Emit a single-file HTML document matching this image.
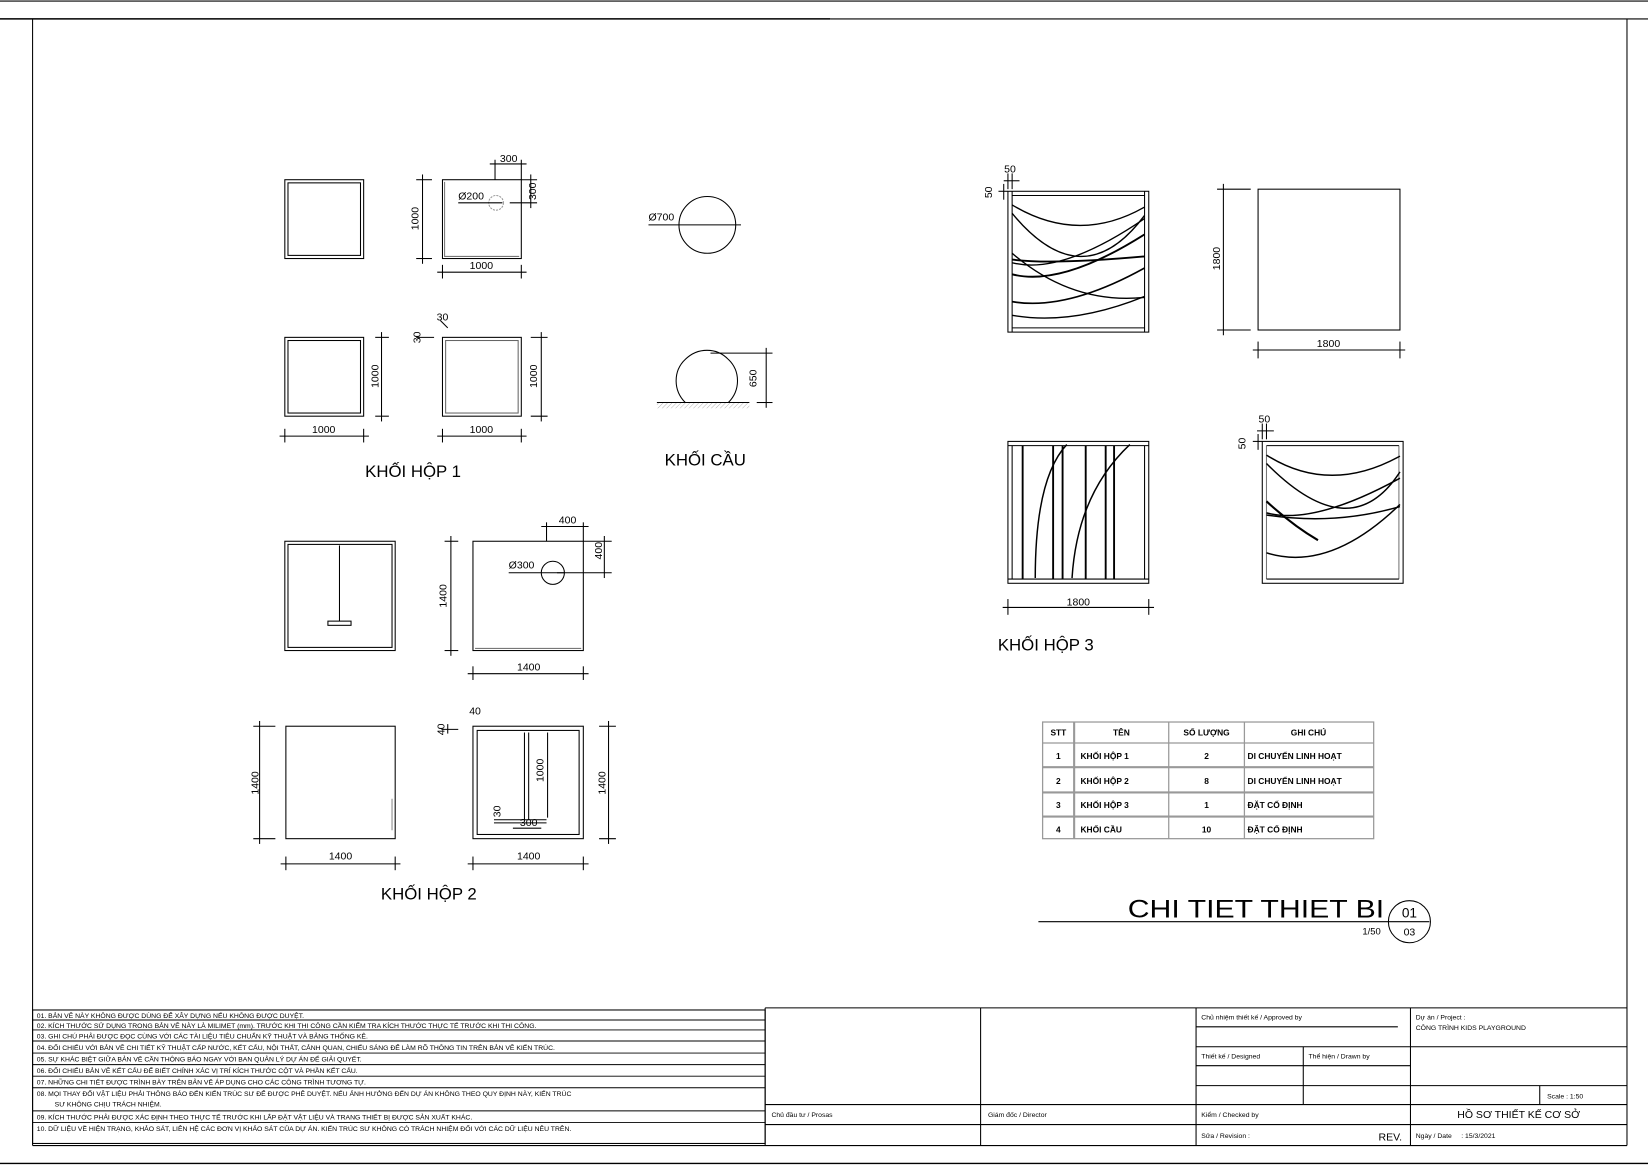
<!DOCTYPE html>
<html><head><meta charset="utf-8"><style>
html,body{margin:0;padding:0;background:#fff;}
svg{display:block;}
text{font-family:"Liberation Sans","DejaVu Sans",sans-serif;fill:#000;}
</style></head><body>
<svg width="1648" height="1165" viewBox="0 0 1568 1108.5" preserveAspectRatio="none" xmlns="http://www.w3.org/2000/svg">
<defs>
<pattern id="hat" width="3" height="3" patternUnits="userSpaceOnUse" patternTransform="rotate(45)"><line x1="0" y1="0" x2="0" y2="3" stroke="#888" stroke-width="0.6"/></pattern>
</defs>
<g fill="none" stroke="#000" stroke-width="1">
<line x1="0" y1="1" x2="1568" y2="1"/>
<line x1="0" y1="18" x2="790" y2="18" stroke-width="1.4"/>
<line x1="790" y1="18" x2="1568" y2="18" stroke-width="1"/>
<line x1="31" y1="18" x2="31" y2="1090"/>
<line x1="1548" y1="18" x2="1548" y2="1090"/>
<line x1="0" y1="1107" x2="1568" y2="1107" stroke-width="1.3"/>

<rect x="271" y="171" width="75" height="75"/><rect x="274" y="174" width="69" height="69"/>
<rect x="421" y="171" width="75" height="75"/><path d="M423 173 V244 H494" stroke="#777"/>
<line x1="402" y1="166" x2="402" y2="251"/><line x1="396" y1="171" x2="411" y2="171"/><line x1="396" y1="246" x2="411" y2="246"/>
<line x1="416" y1="259" x2="501" y2="259"/><line x1="421" y1="252" x2="421" y2="265"/><line x1="496" y1="252" x2="496" y2="265"/>
<line x1="466" y1="156" x2="501" y2="156"/><line x1="471" y1="152" x2="471" y2="171"/><line x1="496" y1="152" x2="496" y2="171"/>
<line x1="505" y1="166" x2="505" y2="198"/><line x1="496" y1="171" x2="511" y2="171"/><line x1="485" y1="193" x2="511" y2="193"/>
<circle cx="472" cy="193" r="7" stroke="#999" stroke-dasharray="2 1"/>
<line x1="436" y1="193" x2="478" y2="193"/>
<rect x="271" y="321" width="75" height="75"/><rect x="274" y="324" width="69" height="69"/>
<line x1="363" y1="316" x2="363" y2="401"/><line x1="357" y1="321" x2="370" y2="321"/><line x1="357" y1="396" x2="370" y2="396"/>
<line x1="266" y1="415" x2="351" y2="415"/><line x1="271" y1="408" x2="271" y2="421"/><line x1="346" y1="408" x2="346" y2="421"/>
<rect x="421" y="321" width="75" height="75"/><rect x="424" y="324" width="69" height="69" stroke="#666"/>
<line x1="515" y1="316" x2="515" y2="401"/><line x1="505" y1="321" x2="521" y2="321"/><line x1="505" y1="396" x2="521" y2="396"/>
<line x1="416" y1="415" x2="501" y2="415"/><line x1="421" y1="408" x2="421" y2="421"/><line x1="496" y1="408" x2="496" y2="421"/>
<line x1="419" y1="305" x2="426" y2="312"/><line x1="396" y1="321" x2="413" y2="321"/>

<circle cx="673" cy="214" r="27"/>
<line x1="617" y1="214" x2="705" y2="214"/>
<path d="M652 383 A29 29 0 1 1 693 383"/>
<line x1="625" y1="383" x2="713" y2="383"/>
<rect x="625" y="383.5" width="88" height="5" fill="url(#hat)" stroke="none"/>
<line x1="729" y1="331" x2="729" y2="388"/><line x1="676" y1="336" x2="735" y2="336"/><line x1="720" y1="383" x2="735" y2="383"/>

<rect x="271" y="515" width="105" height="104"/><rect x="274" y="518" width="99" height="98"/>
<line x1="323" y1="519" x2="323" y2="591"/><rect x="312" y="591" width="22" height="4"/>
<rect x="450" y="515" width="105" height="104"/><line x1="452" y1="617" x2="553" y2="617" stroke="#777"/>
<line x1="429" y1="510" x2="429" y2="624"/><line x1="423" y1="515" x2="436" y2="515"/><line x1="423" y1="619" x2="436" y2="619"/>
<line x1="445" y1="641" x2="560" y2="641"/><line x1="450" y1="634" x2="450" y2="647"/><line x1="555" y1="634" x2="555" y2="647"/>
<line x1="515" y1="501" x2="560" y2="501"/><line x1="520" y1="497" x2="520" y2="515"/><line x1="555" y1="497" x2="555" y2="515"/>
<line x1="575" y1="510" x2="575" y2="550"/><line x1="555" y1="515" x2="582" y2="515"/><line x1="530" y1="545" x2="582" y2="545"/>
<circle cx="526" cy="545" r="11"/>
<line x1="484" y1="545" x2="537" y2="545"/>
<rect x="272" y="691" width="104" height="107"/><line x1="373" y1="760" x2="373" y2="790" stroke="#888"/>
<line x1="247" y1="686" x2="247" y2="803"/><line x1="241" y1="691" x2="262" y2="691"/><line x1="241" y1="798" x2="262" y2="798"/>
<line x1="267" y1="822" x2="381" y2="822"/><line x1="272" y1="815" x2="272" y2="828"/><line x1="376" y1="815" x2="376" y2="828"/>
<rect x="450" y="691" width="105" height="107"/><rect x="454" y="695" width="97" height="99"/>
<line x1="499" y1="697" x2="499" y2="780"/><line x1="503" y1="697" x2="503" y2="780"/>
<line x1="470" y1="780" x2="520" y2="780"/><line x1="470" y1="783" x2="520" y2="783"/>
<line x1="521" y1="697" x2="521" y2="778"/>
<line x1="579" y1="686" x2="579" y2="803"/><line x1="570" y1="691" x2="586" y2="691"/><line x1="570" y1="798" x2="586" y2="798"/>
<line x1="445" y1="822" x2="560" y2="822"/><line x1="450" y1="815" x2="450" y2="828"/><line x1="555" y1="815" x2="555" y2="828"/>
<line x1="488" y1="788" x2="515" y2="788"/><line x1="426" y1="689" x2="426" y2="698"/><line x1="420" y1="694" x2="436" y2="694"/>

<rect x="959" y="182" width="134" height="134"/>
<line x1="963" y1="182" x2="963" y2="316"/><line x1="1089" y1="182" x2="1089" y2="316"/>
<line x1="963" y1="186" x2="1089" y2="186"/><line x1="963" y1="312" x2="1089" y2="312"/>
<g stroke-width="1.3">
<path d="M963 195 Q1026 233 1089 197"/>
<path d="M963 203 Q1030 284 1089 205"/>
<path d="M963 241 Q1020 290 1089 283"/>
<path d="M963 247 Q1000 252 1089 244" stroke-width="1.8"/>
<path d="M963 250 Q1010 262 1089 208"/>
<path d="M963 261 Q1010 273 1089 223" stroke-width="1.8"/>
<path d="M963 287 Q1015 296 1089 255" stroke-width="1.6"/>
<path d="M963 300 Q1020 310 1089 282"/>
</g>
<line x1="950" y1="182" x2="959" y2="182"/><line x1="955" y1="175" x2="955" y2="190"/>
<line x1="955" y1="172" x2="970" y2="172"/><line x1="959" y1="165" x2="959" y2="180"/><line x1="963" y1="165" x2="963" y2="180"/>

<rect x="1197" y="180" width="135" height="134"/>
<line x1="1164" y1="175" x2="1164" y2="319"/><line x1="1158" y1="180" x2="1190" y2="180"/><line x1="1158" y1="314" x2="1190" y2="314"/>
<line x1="1192" y1="333" x2="1337" y2="333"/><line x1="1197" y1="325" x2="1197" y2="341"/><line x1="1332" y1="325" x2="1332" y2="341"/>

<rect x="959" y="420" width="134" height="135"/>
<line x1="963" y1="424" x2="963" y2="551"/><line x1="1089" y1="424" x2="1089" y2="551"/>
<line x1="959" y1="424" x2="1093" y2="424"/><line x1="959" y1="551" x2="1093" y2="551"/>
<g stroke-width="1.8">
<line x1="973" y1="424" x2="973" y2="551"/><line x1="1002" y1="424" x2="1002" y2="551"/><line x1="1011" y1="424" x2="1011" y2="551"/>
<line x1="1033" y1="424" x2="1033" y2="551"/><line x1="1052" y1="424" x2="1052" y2="551"/><line x1="1060" y1="424" x2="1060" y2="551"/>
</g>
<path d="M1015 423 Q985 455 985 550" stroke-width="1.4"/>
<path d="M1075 423 Q1025 470 1020 550" stroke-width="1.4"/>
<line x1="954" y1="578" x2="1098" y2="578"/><line x1="959" y1="570" x2="959" y2="585"/><line x1="1093" y1="570" x2="1093" y2="585"/>

<rect x="1201" y="420" width="134" height="135"/>
<line x1="1205" y1="424" x2="1205" y2="551" stroke="#777"/><line x1="1331" y1="424" x2="1331" y2="551" stroke="#777"/>
<line x1="1205" y1="424" x2="1331" y2="424"/><line x1="1205" y1="551" x2="1331" y2="551"/>
<g stroke-width="1.4">
<path d="M1205 433 Q1265 471 1332 434"/>
<path d="M1205 441 Q1285 522 1332 449"/>
<path d="M1205 477 Q1230 500 1254 514" stroke-width="2"/>
<path d="M1205 488 Q1250 500 1332 455"/>
<path d="M1205 490 Q1270 500 1332 482"/>
<path d="M1205 526 Q1265 545 1332 480"/>
</g>
<line x1="1192" y1="420" x2="1201" y2="420"/><line x1="1197" y1="413" x2="1197" y2="428"/>
<line x1="1196" y1="410" x2="1212" y2="410"/><line x1="1201" y1="403" x2="1201" y2="418"/><line x1="1205" y1="403" x2="1205" y2="418"/>

<g stroke="#999" stroke-width="1.2">
<rect x="992" y="687" width="315" height="111"/>
<line x1="1022" y1="687" x2="1022" y2="798" stroke-width="2"/><line x1="1112" y1="687" x2="1112" y2="798"/><line x1="1184" y1="687" x2="1184" y2="798"/>
<line x1="992" y1="707" x2="1307" y2="707"/><line x1="992" y1="730" x2="1307" y2="730" stroke-width="2"/><line x1="992" y1="754" x2="1307" y2="754" stroke-width="2"/><line x1="992" y1="777" x2="1307" y2="777" stroke-width="2"/>
</g>

<line x1="988" y1="877" x2="1360" y2="877"/>
<circle cx="1341" cy="877" r="20"/>

<rect x="31" y="961" width="697" height="127"/>
<g stroke-width="0.9">
<line x1="31" y1="970.5" x2="728" y2="970.5"/><line x1="31" y1="980" x2="728" y2="980"/><line x1="31" y1="990.5" x2="728" y2="990.5"/>
<line x1="31" y1="1002" x2="728" y2="1002"/><line x1="31" y1="1013" x2="728" y2="1013"/><line x1="31" y1="1024" x2="728" y2="1024"/>
<line x1="31" y1="1035" x2="728" y2="1035"/><line x1="31" y1="1057" x2="728" y2="1057"/><line x1="31" y1="1068" x2="728" y2="1068"/>
</g>
<line x1="728" y1="959" x2="1548" y2="959"/>
<line x1="31" y1="1090" x2="1548" y2="1090"/>
<line x1="728" y1="959" x2="728" y2="1090"/><line x1="933" y1="959" x2="933" y2="1090"/>
<line x1="1138" y1="959" x2="1138" y2="1090"/><line x1="1342" y1="959" x2="1342" y2="1090"/>
<line x1="728" y1="1051" x2="1138" y2="1051"/><line x1="728" y1="1070" x2="1548" y2="1070"/>
<line x1="1138" y1="977" x2="1330" y2="977"/><line x1="1138" y1="996" x2="1548" y2="996"/>
<line x1="1138" y1="1014" x2="1342" y2="1014"/><line x1="1138" y1="1033" x2="1548" y2="1033"/>
<line x1="1138" y1="1051" x2="1548" y2="1051"/><line x1="1240" y1="996" x2="1240" y2="1051"/>
<line x1="1465" y1="1033" x2="1465" y2="1051"/>
</g>

<g font-size="10">
<text x="458" y="256" text-anchor="middle">1000</text>
<text x="484" y="154" text-anchor="middle">300</text>
<text transform="translate(398,208) rotate(-90)" text-anchor="middle">1000</text>
<text transform="translate(510,182) rotate(-90)" text-anchor="middle">300</text>
<text x="436" y="190">Ø200</text>
<text transform="translate(360,358) rotate(-90)" text-anchor="middle">1000</text>
<text transform="translate(511,358) rotate(-90)" text-anchor="middle">1000</text>
<text x="308" y="412" text-anchor="middle">1000</text>
<text x="458" y="412" text-anchor="middle">1000</text>
<text x="421" y="305" text-anchor="middle">30</text>
<text transform="translate(400,321) rotate(-90)" text-anchor="middle">30</text>
<text x="617" y="210">Ø700</text>
<text transform="translate(720,360) rotate(-90)" text-anchor="middle">650</text>
<text x="540" y="498" text-anchor="middle">400</text>
<text transform="translate(573,524) rotate(-90)" text-anchor="middle">400</text>
<text x="484" y="541">Ø300</text>
<text transform="translate(425,567) rotate(-90)" text-anchor="middle">1400</text>
<text x="503" y="638" text-anchor="middle">1400</text>
<text transform="translate(246,745) rotate(-90)" text-anchor="middle">1400</text>
<text x="324" y="818" text-anchor="middle">1400</text>
<text transform="translate(576,745) rotate(-90)" text-anchor="middle">1400</text>
<text x="503" y="818" text-anchor="middle">1400</text>
<text x="452" y="680" text-anchor="middle">40</text>
<text transform="translate(423,694) rotate(-90)" text-anchor="middle">40</text>
<text transform="translate(517,733) rotate(-90)" text-anchor="middle">1000</text>
<text x="503" y="786" text-anchor="middle">300</text>
<text transform="translate(476,772) rotate(-90)" text-anchor="middle">30</text>
<text x="961" y="164" text-anchor="middle">50</text>
<text transform="translate(944,183) rotate(-90)" text-anchor="middle">50</text>
<text transform="translate(1161,246) rotate(-90)" text-anchor="middle">1800</text>
<text x="1264" y="330" text-anchor="middle">1800</text>
<text x="1026" y="576" text-anchor="middle">1800</text>
<text x="1203" y="402" text-anchor="middle">50</text>
<text transform="translate(1185,422) rotate(-90)" text-anchor="middle">50</text>
</g>
<g font-size="16">
<text x="393" y="454" text-anchor="middle">KHỐI HỘP 1</text>
<text x="671" y="443" text-anchor="middle">KHỐI CẦU</text>
<text x="408" y="856" text-anchor="middle">KHỐI HỘP 2</text>
<text x="995" y="619" text-anchor="middle">KHỐI HỘP 3</text>
</g>
<g font-size="8" font-weight="bold">
<text x="1007" y="700" text-anchor="middle">STT</text><text x="1067" y="700" text-anchor="middle">TÊN</text><text x="1148" y="700" text-anchor="middle">SỐ LƯỢNG</text><text x="1245" y="700" text-anchor="middle">GHI CHÚ</text>
<text x="1007" y="722" text-anchor="middle">1</text><text x="1028" y="722">KHỐI HỘP 1</text><text x="1148" y="722" text-anchor="middle">2</text><text x="1187" y="722">DI CHUYỂN LINH HOẠT</text>
<text x="1007" y="746" text-anchor="middle">2</text><text x="1028" y="746">KHỐI HỘP 2</text><text x="1148" y="746" text-anchor="middle">8</text><text x="1187" y="746">DI CHUYỂN LINH HOẠT</text>
<text x="1007" y="769" text-anchor="middle">3</text><text x="1028" y="769">KHỐI HỘP 3</text><text x="1148" y="769" text-anchor="middle">1</text><text x="1187" y="769">ĐẶT CỐ ĐỊNH</text>
<text x="1007" y="792" text-anchor="middle">4</text><text x="1028" y="792">KHỐI CẦU</text><text x="1148" y="792" text-anchor="middle">10</text><text x="1187" y="792">ĐẶT CỐ ĐỊNH</text>
</g>
<text x="1073" y="873" font-size="24" textLength="244" lengthAdjust="spacingAndGlyphs">CHI TIET THIET BI</text>
<text x="1341" y="873" font-size="13" text-anchor="middle">01</text>
<text x="1341" y="890" font-size="10" text-anchor="middle">03</text>
<text x="1305" y="889" font-size="9" text-anchor="middle">1/50</text>
<g font-size="6.5" fill="#222">
<text x="35" y="968.5">01. BẢN VẼ NÀY KHÔNG ĐƯỢC DÙNG ĐỂ XÂY DỰNG NẾU KHÔNG ĐƯỢC DUYỆT.</text>
<text x="35" y="978">02. KÍCH THƯỚC SỬ DỤNG TRONG BẢN VẼ NÀY LÀ MILIMET (mm). TRƯỚC KHI THI CÔNG CẦN KIỂM TRA KÍCH THƯỚC THỰC TẾ TRƯỚC KHI THI CÔNG.</text>
<text x="35" y="988">03. GHI CHÚ PHẢI ĐƯỢC ĐỌC CÙNG VỚI CÁC TÀI LIỆU TIÊU CHUẨN KỸ THUẬT VÀ BẢNG THỐNG KÊ.</text>
<text x="35" y="999">04. ĐỐI CHIẾU VỚI BẢN VẼ CHI TIẾT KỸ THUẬT CẤP NƯỚC, KẾT CẤU, NỘI THẤT, CẢNH QUAN, CHIẾU SÁNG ĐỂ LÀM RÕ THÔNG TIN TRÊN BẢN VẼ KIẾN TRÚC.</text>
<text x="35" y="1010">05. SỰ KHÁC BIỆT GIỮA BẢN VẼ CẦN THÔNG BÁO NGAY VỚI BAN QUẢN LÝ DỰ ÁN ĐỂ GIẢI QUYẾT.</text>
<text x="35" y="1021">06. ĐỐI CHIẾU BẢN VẼ KẾT CẤU ĐỂ BIẾT CHÍNH XÁC VỊ TRÍ KÍCH THƯỚC CỘT VÀ PHẦN KẾT CẤU.</text>
<text x="35" y="1032">07. NHỮNG CHI TIẾT ĐƯỢC TRÌNH BÀY TRÊN BẢN VẼ ÁP DỤNG CHO CÁC CÔNG TRÌNH TƯƠNG TỰ.</text>
<text x="35" y="1043">08. MỌI THAY ĐỔI VẬT LIỆU PHẢI THÔNG BÁO ĐẾN KIẾN TRÚC SƯ ĐỂ ĐƯỢC PHÊ DUYỆT. NẾU ẢNH HƯỞNG ĐẾN DỰ ÁN KHÔNG THEO QUY ĐỊNH NÀY, KIẾN TRÚC</text>
<text x="52" y="1053">SƯ KHÔNG CHỊU TRÁCH NHIỆM.</text>
<text x="35" y="1065">09. KÍCH THƯỚC PHẢI ĐƯỢC XÁC ĐỊNH THEO THỰC TẾ TRƯỚC KHI LẮP ĐẶT VẬT LIỆU VÀ TRANG THIẾT BỊ ĐƯỢC SẢN XUẤT KHÁC.</text>
<text x="35" y="1076">10. DỮ LIỆU VỀ HIỆN TRẠNG, KHẢO SÁT, LIÊN HỆ CÁC ĐƠN VỊ KHẢO SÁT CỦA DỰ ÁN. KIẾN TRÚC SƯ KHÔNG CÓ TRÁCH NHIỆM ĐỐI VỚI CÁC DỮ LIỆU NÊU TRÊN.</text>
<text x="734" y="1063">Chủ đầu tư / Prosas</text>
<text x="940" y="1063">Giám đốc / Director</text>
<text x="1143" y="970">Chủ nhiệm thiết kế / Approved by</text>
<text x="1347" y="970">Dự án / Project :</text>
<text x="1347" y="980">CÔNG TRÌNH KIDS PLAYGROUND</text>
<text x="1143" y="1007">Thiết kế / Designed</text>
<text x="1245" y="1007">Thể hiện / Drawn by</text>
<text x="1472" y="1045">Scale : 1:50</text>
<text x="1143" y="1063">Kiểm / Checked by</text>
<text x="1143" y="1083">Sửa / Revision :</text>
<text x="1347" y="1083">Ngày / Date &#160; &#160; : 15/3/2021</text>
</g>
<text x="1445" y="1064" font-size="10" text-anchor="middle">HỒ SƠ THIẾT KẾ CƠ SỞ</text>
<text x="1334" y="1085" font-size="10" text-anchor="end">REV.</text>
</svg>
</body></html>
